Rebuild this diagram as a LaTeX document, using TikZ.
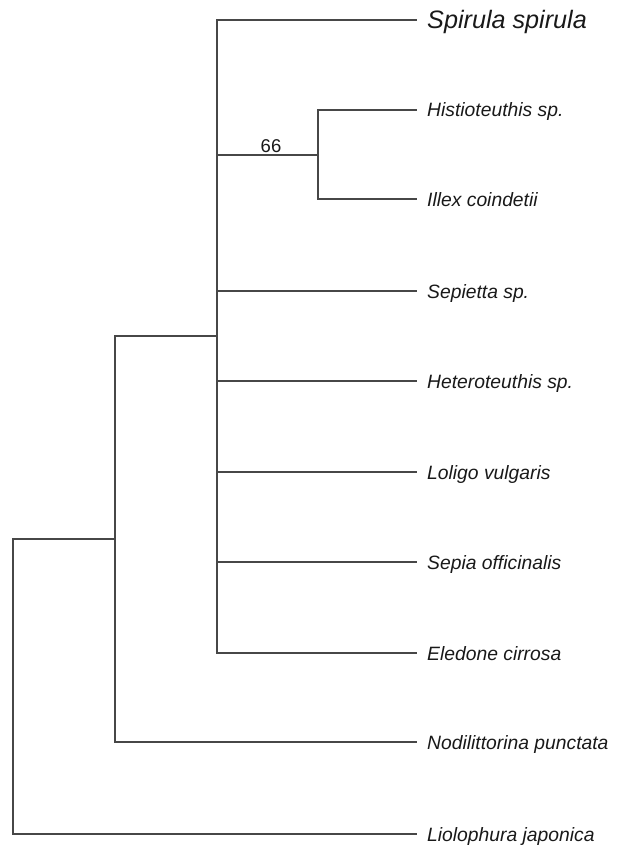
\documentclass[tikz,border=0pt]{standalone}
\usepackage{fontspec}
\setmainfont{Liberation Sans}
\begin{document}
\begin{tikzpicture}[x=1pt,y=-1pt,
  branch/.style={draw=black!72, line width=1.4pt, line cap=rect},
  taxon/.style={font=\fontsize{19.3}{22}\selectfont\itshape, anchor=base west, inner sep=0pt, text=black!90},
  bigtaxon/.style={font=\fontsize{25.2}{28}\selectfont\itshape, anchor=base west, inner sep=0pt, text=black!90},
  support/.style={font=\fontsize{18.5}{22}\selectfont, anchor=base, inner sep=0pt, text=black!90}]
\useasboundingbox (0,0) rectangle (624,845);
% internal nodes
\coordinate (root) at (13,539);
\coordinate (n1) at (115,336);
\coordinate (n2) at (217,336);
\coordinate (n3) at (318,155);
% tips
\coordinate (t1) at (416,20);
\coordinate (t2) at (416,110);
\coordinate (t3) at (416,199);
\coordinate (t4) at (416,291);
\coordinate (t5) at (416,381);
\coordinate (t6) at (416,472);
\coordinate (t7) at (416,562);
\coordinate (t8) at (416,653);
\coordinate (t9) at (416,742);
\coordinate (t10) at (416,834);
% branches
\draw[branch] (t1) -| (t8 -| n2) -- (t8);
\draw[branch] (t2) -| (t3 -| n3) -- (t3);
\draw[branch] (n2 |- n3) -- (n3);
\draw[branch] (n2 |- t4) -- (t4);
\draw[branch] (n2 |- t5) -- (t5);
\draw[branch] (n2 |- t6) -- (t6);
\draw[branch] (n2 |- t7) -- (t7);
\draw[branch] (n2) -- (n1) -- (t9 -| n1) -- (t9);
\draw[branch] (n1 |- root) -- (root) -- (t10 -| root) -- (t10);
% labels
\node[bigtaxon] (l1) at ([xshift=11pt,yshift=-9pt]t1) {Spirula spirula};
\node[taxon] (l2) at ([xshift=11pt,yshift=-7pt]t2) {Histioteuthis sp.};
\node[taxon] (l3) at ([xshift=11pt,yshift=-7pt]t3) {Illex coindetii};
\node[taxon] (l4) at ([xshift=11pt,yshift=-7pt]t4) {Sepietta sp.};
\node[taxon] (l5) at ([xshift=11pt,yshift=-7pt]t5) {Heteroteuthis sp.};
\node[taxon] (l6) at ([xshift=11pt,yshift=-7pt]t6) {Loligo vulgaris};
\node[taxon] (l7) at ([xshift=11pt,yshift=-7pt]t7) {Sepia officinalis};
\node[taxon] (l8) at ([xshift=11pt,yshift=-7pt]t8) {Eledone cirrosa};
\node[taxon] (l9) at ([xshift=11pt,yshift=-7pt]t9) {Nodilittorina punctata};
\node[taxon] (l10) at ([xshift=11pt,yshift=-7pt]t10) {Liolophura japonica};
\node[support] (bs) at (271,153) {66};
\end{tikzpicture}
\end{document}
